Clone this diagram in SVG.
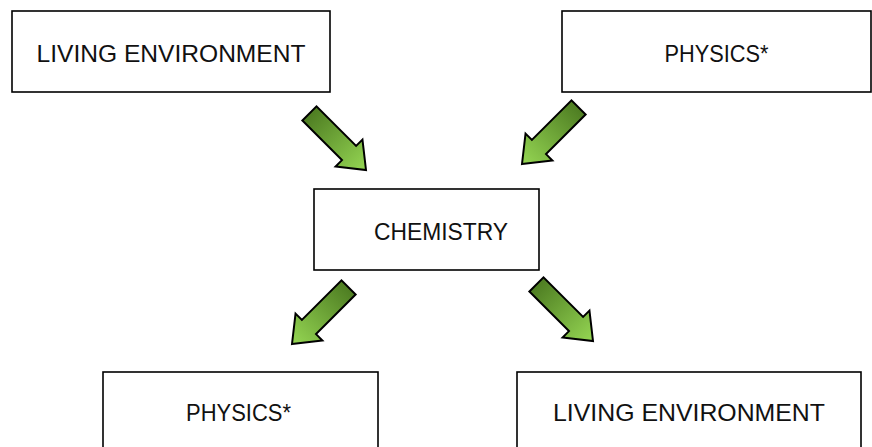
<svg xmlns="http://www.w3.org/2000/svg" width="872" height="447" viewBox="0 0 872 447">
  <defs>
    <linearGradient id="g" x1="-80" y1="0" x2="0" y2="0" gradientUnits="userSpaceOnUse">
      <stop offset="0" stop-color="#4e7d22"/>
      <stop offset="1" stop-color="#95d653"/>
    </linearGradient>
    <path id="arr" d="M0,0 L-24,-19 L-24,-10 L-80,-10 L-80,10 L-24,10 L-24,19 Z"/>
  </defs>
  <style>
    .box { fill: #ffffff; stroke: #000000; stroke-width: 1.6; }
    .lbl { font-family: "Liberation Sans", Arial, sans-serif; font-size: 24px; fill: #111111; text-anchor: middle; }
    .arrow { fill: url(#g); stroke: #000000; stroke-width: 2; stroke-linejoin: miter; }
  </style>
  <rect width="872" height="447" fill="#ffffff"/>

  <g id="connectors">
    <use href="#arr" class="arrow" transform="translate(366,170) rotate(45)"/>
    <use href="#arr" class="arrow" transform="translate(522,164) rotate(135)"/>
    <use href="#arr" class="arrow" transform="translate(292,344) rotate(135)"/>
    <use href="#arr" class="arrow" transform="translate(593,341) rotate(45)"/>
  </g>

  <g id="living-environment-top">
    <rect class="box" x="12" y="11" width="318" height="81"/>
    <text class="lbl" x="171" y="62" textLength="269" lengthAdjust="spacingAndGlyphs">LIVING ENVIRONMENT</text>
  </g>
  <g id="physics-top">
    <rect class="box" x="562" y="11" width="309" height="81"/>
    <text class="lbl" x="716.5" y="62" textLength="104" lengthAdjust="spacingAndGlyphs">PHYSICS*</text>
  </g>
  <g id="chemistry">
    <rect class="box" x="314" y="189" width="225" height="81"/>
    <text class="lbl" x="441" y="240" textLength="134" lengthAdjust="spacingAndGlyphs">CHEMISTRY</text>
  </g>
  <g id="physics-bottom">
    <rect class="box" x="103" y="372" width="275" height="90"/>
    <text class="lbl" x="238.5" y="421" textLength="105" lengthAdjust="spacingAndGlyphs">PHYSICS*</text>
  </g>
  <g id="living-environment-bottom">
    <rect class="box" x="517" y="372" width="344" height="90"/>
    <text class="lbl" x="689" y="421" textLength="272" lengthAdjust="spacingAndGlyphs">LIVING ENVIRONMENT</text>
  </g>
</svg>
